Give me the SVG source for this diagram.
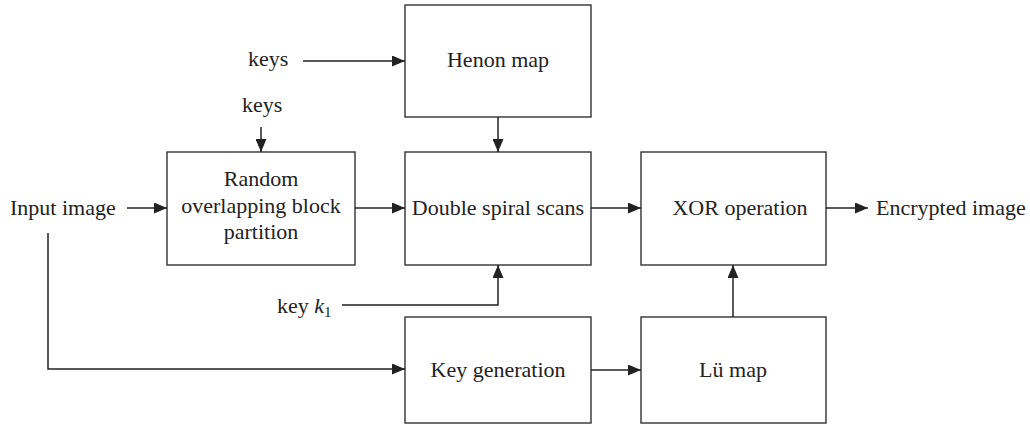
<svg xmlns="http://www.w3.org/2000/svg" width="1030" height="426" viewBox="0 0 1030 426">
<style>
  .box { fill: #fff; stroke: #333; stroke-width: 1.4; }
  .t { font-family: "Liberation Serif", "Times New Roman", serif; font-size: 22px; fill: #222; }
  .c { text-anchor: middle; }
  .ln { fill: none; stroke: #222; stroke-width: 1.5; marker-end: url(#ah); }
</style>
<defs>
  <marker id="ah" viewBox="0 0 13 11" refX="13" refY="5.5" markerWidth="13" markerHeight="11" markerUnits="userSpaceOnUse" orient="auto">
    <path d="M0,0 L13,5.5 L0,11 Z" fill="#222"/>
  </marker>
</defs>
<rect width="1030" height="426" fill="#fff"/>

<g id="henon">
  <rect class="box" x="405" y="5" width="186" height="112"/>
  <text class="t c" x="498" y="67">Henon map</text>
</g>
<g id="random">
  <rect class="box" x="167" y="152" width="188" height="113"/>
  <text class="t c" x="261" y="186">Random</text>
  <text class="t c" x="261" y="213">overlapping block</text>
  <text class="t c" x="261" y="239">partition</text>
</g>
<g id="double">
  <rect class="box" x="405" y="152" width="186" height="113"/>
  <text class="t c" x="498" y="215">Double spiral scans</text>
</g>
<g id="xor">
  <rect class="box" x="641" y="152" width="185" height="113"/>
  <text class="t c" x="740" y="215">XOR operation</text>
</g>
<g id="keygen">
  <rect class="box" x="405" y="317" width="186" height="106"/>
  <text class="t c" x="498" y="377">Key generation</text>
</g>
<g id="lu">
  <rect class="box" x="641" y="317" width="185" height="106"/>
  <text class="t c" x="733" y="377">Lü map</text>
</g>
<g id="labels">
  <text class="t" x="248" y="66">keys</text>
  <text class="t" x="242" y="112">keys</text>
  <text class="t" x="10" y="215">Input image</text>
  <text class="t" x="876" y="215">Encrypted image</text>
  <text class="t" x="277" y="313">key <tspan font-style="italic">k</tspan><tspan font-size="15" dy="4">1</tspan></text>
</g>

<g id="connectors">
  <line class="ln" x1="303" y1="61" x2="405" y2="61"/>
  <line class="ln" x1="261" y1="127" x2="261" y2="152"/>
  <line class="ln" x1="127" y1="208" x2="167" y2="208"/>
  <line class="ln" x1="355" y1="208" x2="405" y2="208"/>
  <line class="ln" x1="498" y1="117" x2="498" y2="152"/>
  <line class="ln" x1="591" y1="208" x2="641" y2="208"/>
  <line class="ln" x1="826" y1="208" x2="868" y2="208"/>
  <polyline class="ln" points="342,305 498,305 498,265"/>
  <polyline class="ln" points="48,233 48,369 405,369"/>
  <line class="ln" x1="591" y1="370" x2="641" y2="370"/>
  <line class="ln" x1="733" y1="317" x2="733" y2="265"/>
</g>
</svg>
